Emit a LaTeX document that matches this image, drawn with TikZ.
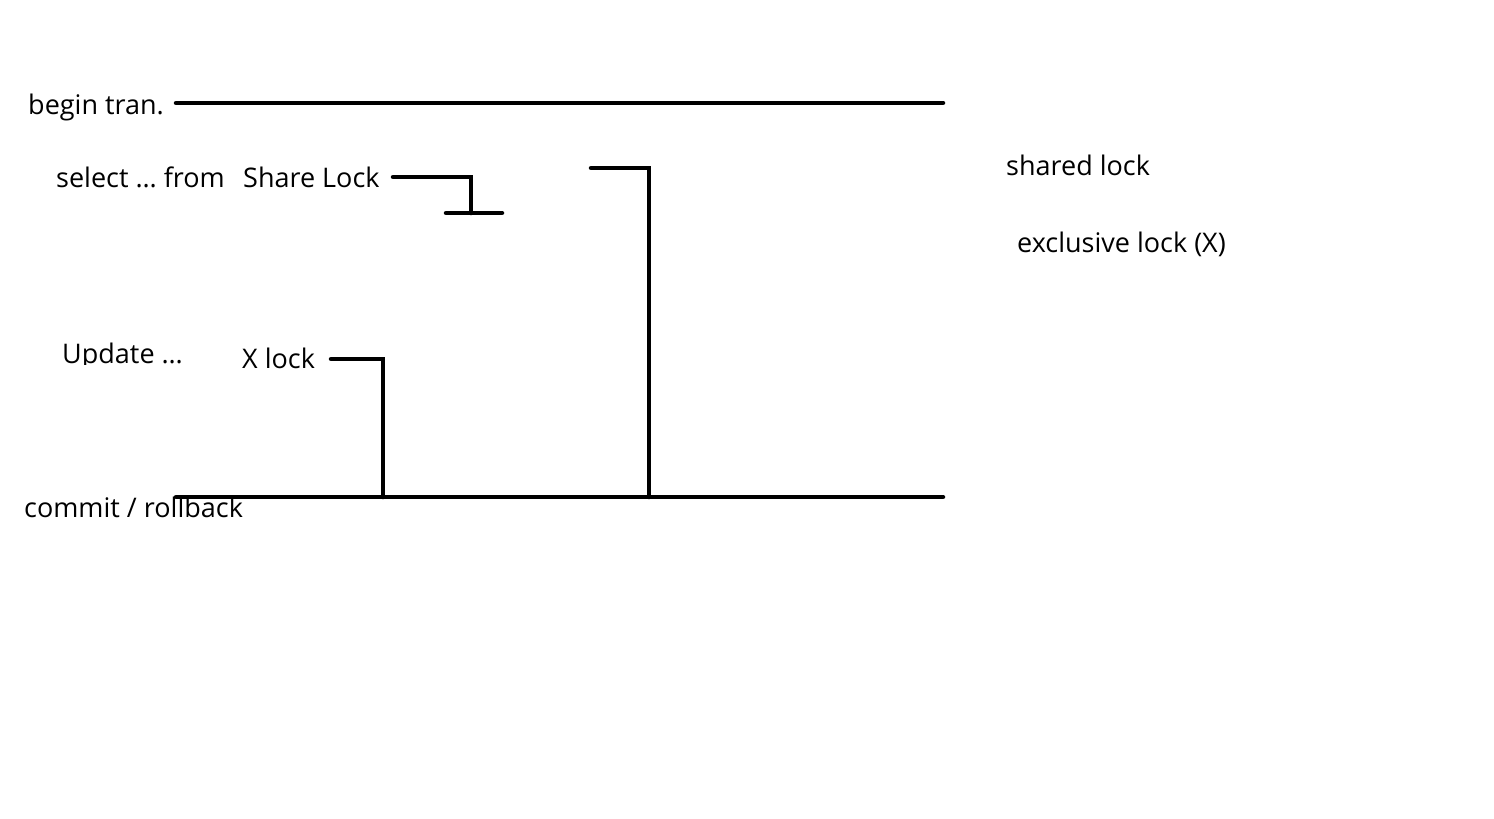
\documentclass[tikz,border=0pt]{standalone}
\usepackage{fontspec}
\setmainfont{Open Sans}
\begin{document}
\begin{tikzpicture}[x=1pt,y=-1pt,
  lbl/.style={anchor=base west,inner sep=0pt,font=\fontsize{27}{32}\selectfont},
  ln/.style={line width=4.5pt,line cap=round}]
\useasboundingbox[fill=white] (0,0) rectangle (1494,819);
% labels
\node[lbl] (begin) at (28,114) {begin tran.};
\node[lbl] (select) at (56,187) {select … from};
\node[lbl] (share) at (243,187) {Share Lock};
\begin{scope}
\clip (0,300) rectangle (300,364);
\node[lbl] (update) at (62,363) {Update …};
\end{scope}
\node[lbl] (xlock) at (242,368) {X lock};
\node[lbl] (commit) at (24,517) {commit / rollback};
\node[lbl] (shared) at (1006,175) {shared lock};
\node[lbl] (excl) at (1017,252) {exclusive lock (X)};
% coordinates
\coordinate (t1) at (176,103); \coordinate (t2) at (943,103);
\coordinate (b1) at (176,497); \coordinate (b2) at (943,497);
\coordinate (s1) at (393,177); \coordinate (s2) at (471,177); \coordinate (s3) at (471,213);
\coordinate (s4) at (446,213); \coordinate (s5) at (502,213);
\coordinate (g1) at (591,168); \coordinate (g2) at (649,168); \coordinate (g3) at (649,497);
\coordinate (x1) at (331,359); \coordinate (x2) at (383,359); \coordinate (x3) at (383,497);
% lines
\draw[ln] (t1) -- (t2);
\draw[ln] (b1) -- (b2);
\draw[ln] (s1) -- (s2) -- (s3);
\draw[ln] (s4) -- (s5);
\draw[ln] (g1) -- (g2) -- (g3);
\draw[ln] (x1) -- (x2) -- (x3);
\end{tikzpicture}
\end{document}
